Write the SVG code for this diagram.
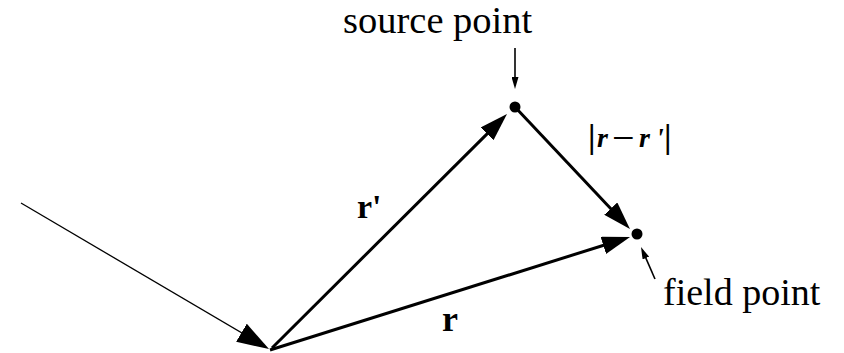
<svg xmlns="http://www.w3.org/2000/svg" width="844" height="353" viewBox="0 0 844 353">
<style>
.t{font-family:"Liberation Serif","Times New Roman",serif;fill:#000}
.vec{stroke:#000;stroke-width:3;fill:none}
.thin{stroke:#000;stroke-width:1.3;fill:none}
.ptr{stroke:#000;stroke-width:1.6;fill:none}
.dot{fill:#000}
</style>
<defs>
<marker id="ah" viewBox="0 0 28 18" refX="18" refY="9" markerWidth="28" markerHeight="18" markerUnits="userSpaceOnUse" orient="auto"><path d="M0,0 L28,9 L0,18 Z" fill="#000"/></marker>
<marker id="ahBig" viewBox="0 0 32 21" refX="22" refY="10.5" markerWidth="32" markerHeight="21" markerUnits="userSpaceOnUse" orient="auto"><path d="M0,0 L32,10.5 L0,21 Z" fill="#000"/></marker>
<marker id="ahSmall" viewBox="0 0 12 7" refX="8" refY="3.5" markerWidth="12" markerHeight="7" markerUnits="userSpaceOnUse" orient="auto"><path d="M0,0 L12,3.5 L0,7 Z" fill="#000"/></marker>
</defs>
<rect width="844" height="353" fill="#fff"/>
<g id="connectors">
<line class="thin" x1="21" y1="203" x2="260.4" y2="343.9" marker-end="url(#ahBig)"/>
<line class="vec" x1="272" y1="348" x2="499.9" y2="121.1" marker-end="url(#ah)"/>
<line class="vec" x1="270" y1="350" x2="620.5" y2="240" marker-end="url(#ah)"/>
<line class="vec" x1="515" y1="107" x2="623.1" y2="221.7" marker-end="url(#ah)"/>
<line class="ptr" x1="515" y1="48" x2="515" y2="85" marker-end="url(#ahSmall)"/>
<line class="ptr" x1="655" y1="279" x2="642.6" y2="250.7" marker-end="url(#ahSmall)"/>
</g>
<g id="source-point">
<circle class="dot" cx="515" cy="107" r="5.5"/>
<text class="t" x="343" y="33" font-size="38.5">source point</text>
</g>
<g id="field-point">
<circle class="dot" cx="637" cy="234" r="5.5"/>
<text class="t" x="663" y="305" font-size="38">field point</text>
</g>
<g id="label-rprime">
<text class="t" x="357" y="218" font-size="34" font-weight="bold">r'</text>
</g>
<g id="label-r">
<text class="t" x="442" y="331" font-size="36" font-weight="bold">r</text>
</g>
<g id="label-diff">
<text class="t" font-size="28"><tspan x="588" y="148" font-size="34" font-weight="bold">|</tspan><tspan x="597" y="147" font-weight="bold" font-style="italic">r</tspan><tspan x="612" y="151" font-size="40">−</tspan><tspan x="639" y="147" font-weight="bold" font-style="italic">r</tspan><tspan x="656" y="147" font-weight="bold" font-style="italic">'</tspan><tspan x="664" y="148" font-size="34" font-weight="bold">|</tspan></text>
</g>
</svg>
